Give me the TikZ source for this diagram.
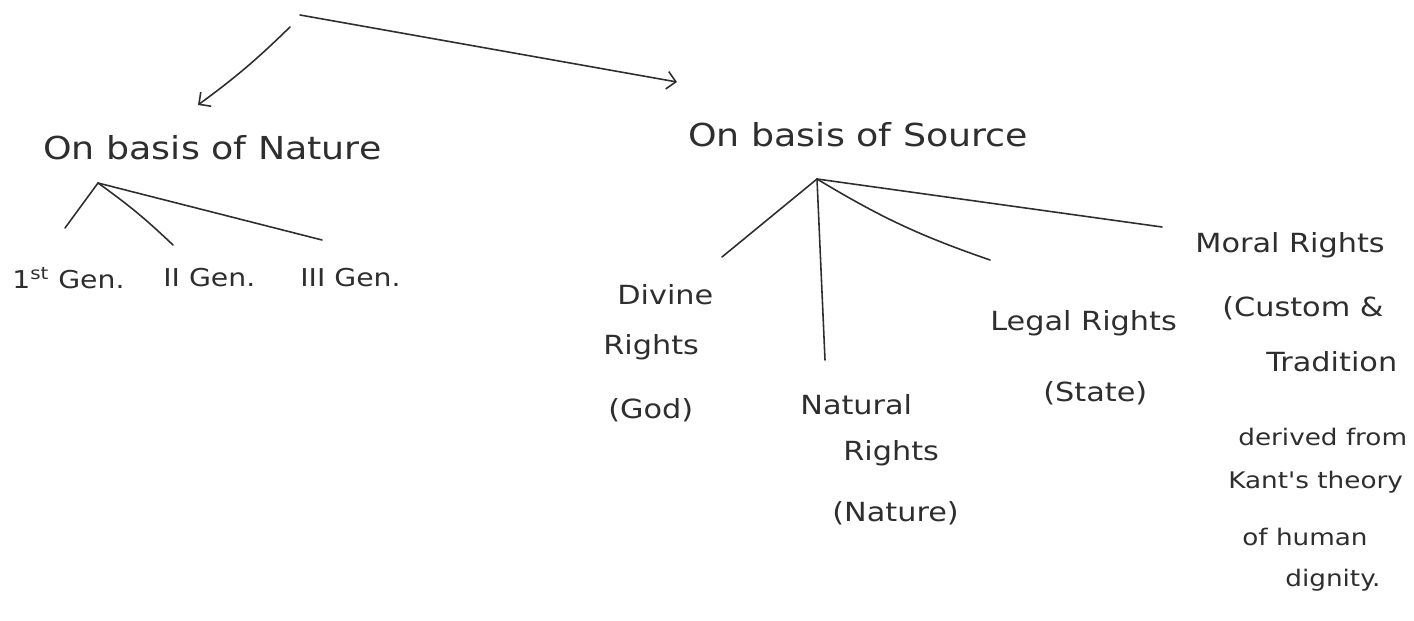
\documentclass[tikz,border=0pt]{standalone}
\usepackage{fontspec}
\newfontfamily\hand[FakeStretch=1.15]{DejaVu Sans}
\usetikzlibrary{arrows.meta}
\definecolor{ink}{HTML}{2E2E2E}
\begin{document}
\begin{tikzpicture}[x=0.02cm,y=-0.02cm,
  ln/.style={draw=ink,line width=0.9pt,line cap=round},
  arr/.style={ln,-{Straight Barb[length=5pt,width=10pt]}},
  lab/.style={text=ink,inner sep=0pt,anchor=west,font=\hand\fontsize{15}{18}\selectfont},
  head/.style={lab,font=\hand\fontsize{18}{22}\selectfont},
  sm/.style={lab,font=\hand\fontsize{14}{17}\selectfont},
  xs/.style={lab,font=\hand\fontsize{13}{16}\selectfont}]
\useasboundingbox (0,0) rectangle (1414,621);

% top split
\coordinate (rootL) at (290,27);
\coordinate (rootR) at (300,15);
\coordinate (natIn) at (198,105);
\coordinate (srcIn) at (677,82);
\draw[arr] (rootL) to[bend left=4] (natIn);
\draw[arr] (rootR) -- (srcIn);

% headings
\node[head] (nature) at (43,148) {On basis of Nature};
\node[head] (source) at (688,135) {On basis of Source};

% nature branches
\coordinate (napex) at (98,183);
\coordinate (g1t) at (65,228);
\coordinate (g2t) at (173,245);
\coordinate (g3t) at (322,240);
\draw[ln] (napex) -- (g1t);
\draw[ln] (napex) to[bend left=4] (g2t);
\draw[ln] (napex) -- (g3t);
\node[sm] (g1) at (12,278) {1\textsuperscript{st} Gen.};
\node[sm] (g2) at (163,278) {II Gen.};
\node[sm] (g3) at (300,278) {III Gen.};

% source branches
\coordinate (sapex) at (817,179);
\coordinate (dvt) at (722,257);
\coordinate (ntt) at (825,360);
\coordinate (lgt) at (990,260);
\coordinate (mrt) at (1162,227);
\draw[ln] (sapex) -- (dvt);
\draw[ln] (sapex) -- (ntt);
\draw[ln] (sapex) to[bend right=6] (lgt);
\draw[ln] (sapex) -- (mrt);

% divine
\node[lab] (dv1) at (617,295) {Divine};
\node[lab] (dv2) at (603,347) {Rights};
\node[lab] (dv3) at (608,410) {(God)};
% natural
\node[lab] (nt1) at (800,405) {Natural};
\node[lab] (nt2) at (843,453) {Rights};
\node[lab] (nt3) at (832,513) {(Nature)};
% legal
\node[lab] (lg1) at (990,323) {Legal Rights};
\node[lab] (lg2) at (1043,393) {(State)};
% moral
\node[lab] (mr1) at (1195,245) {Moral Rights};
\node[lab] (mr2) at (1222,308) {(Custom \&};
\node[lab] (mr3) at (1266,362) {Tradition};
\node[xs] (mr4) at (1238,437) {derived from};
\node[xs] (mr5) at (1228,482) {Kant's theory};
\node[xs] (mr6) at (1242,537) {of human};
\node[xs] (mr7) at (1285,580) {dignity.};
\end{tikzpicture}
\end{document}
